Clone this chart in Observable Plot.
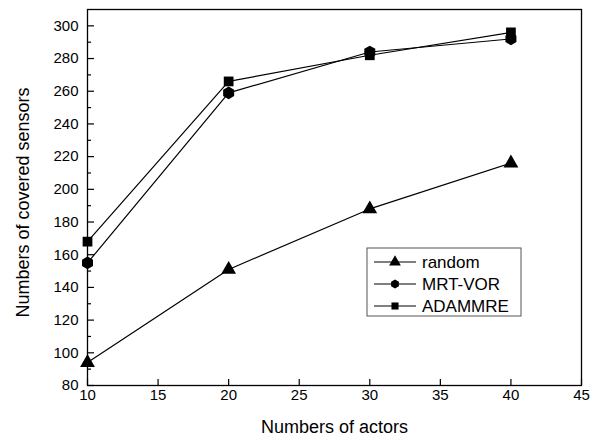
<!DOCTYPE html>
<html>
<head>
<meta charset="utf-8">
<script src="https://cdn.jsdelivr.net/npm/d3@7"></script>
<script src="https://cdn.jsdelivr.net/npm/@observablehq/plot@0.6"></script>
<style>
  html, body { margin: 0; padding: 0; background: #fff; }
  #chart { width: 599px; height: 443px; }
</style>
</head>
<body>
<div id="chart"></div>
<script>
const actors = [10, 20, 30, 40];
const randomVals = [94, 151, 188, 216];
const mrtVorVals = [155, 259, 284, 292];
const adammreVals = [168, 266, 282, 296];
const seriesNames = ["random", "MRT-VOR", "ADAMMRE"];
const seriesSymbols = ["triangle", "hexagon", "square"];
const xTicks = [10, 15, 20, 25, 30, 35, 40, 45];
const yTicks = [80, 100, 120, 140, 160, 180, 200, 220, 240, 260, 280, 300];
const yMinorTicks = [90, 110, 130, 150, 170, 190, 210, 230, 250, 270, 290];

const seriesVals = [randomVals, mrtVorVals, adammreVals];
const data = [];
seriesNames.forEach((name, i) => {
  actors.forEach((a, j) => data.push({series: name, x: a, y: seriesVals[i][j]}));
});

const font = "'Liberation Sans', Arial, sans-serif";

const plot = Plot.plot({
  width: 599,
  height: 443,
  marginLeft: 87,
  marginRight: 18,
  marginTop: 9,
  marginBottom: 58,
  style: {fontFamily: font, fontSize: "15px", color: "#000", background: "#fff"},
  x: {domain: [10, 45]},
  y: {domain: [80, 310]},
  symbol: {domain: seriesNames, range: seriesSymbols},
  marks: [
    Plot.frame({stroke: "#000", strokeWidth: 1.3}),
    Plot.axisX({ticks: xTicks, tickSize: -6, tickPadding: 10, fontSize: 15, label: null, strokeWidth: 1.2}),
    Plot.axisY({ticks: yTicks, tickSize: -7, tickPadding: 16, fontSize: 15, label: null, strokeWidth: 1.2}),
    Plot.axisY({ticks: yMinorTicks, tickSize: -4, text: null, label: null, strokeWidth: 1.2}),
    Plot.text(["Numbers of actors"], {frameAnchor: "bottom", dy: 47, fontSize: 18, fill: "#000"}),
    Plot.text(["Numbers of covered sensors"], {frameAnchor: "left", dx: -64, dy: 5, rotate: -90, textAnchor: "middle", lineAnchor: "middle", fontSize: 18, fill: "#000"}),
    Plot.line(data, {x: "x", y: "y", z: "series", stroke: "#000", strokeWidth: 1.2}),
    Plot.dot(data, {x: "x", y: "y", symbol: "series", fill: "#000", stroke: "none", r: 5.5})
  ]
});

// Legend inside the plot, drawn on the same SVG
const svg = d3.select(plot);
const lx = 367, ly = 248, lw = 154, lh = 68;
const g = svg.append("g").attr("font-family", font).attr("font-size", 17).attr("text-anchor", "start");
g.append("rect").attr("x", lx).attr("y", ly).attr("width", lw).attr("height", lh)
  .attr("fill", "#fff").attr("stroke", "#555").attr("stroke-width", 1);
const types = {triangle: d3.symbolTriangle, square: d3.symbolSquare};
seriesNames.forEach((name, i) => {
  const cy = ly + 14 + i * 22;
  g.append("line").attr("x1", lx + 7).attr("x2", lx + 49).attr("y1", cy).attr("y2", cy)
    .attr("stroke", "#000").attr("stroke-width", 1.2);
  let path;
  if (seriesSymbols[i] === "hexagon") {
    const r = 4.5;
    const pts = d3.range(6).map(k => {
      const a = Math.PI / 3 * k - Math.PI / 2;
      return [r * Math.cos(a), r * Math.sin(a)];
    });
    path = "M" + pts.map(p => p.join(",")).join("L") + "Z";
  } else {
    path = d3.symbol().type(types[seriesSymbols[i]]).size(seriesSymbols[i] === "square" ? 50 : 60)();
  }
  g.append("path").attr("d", path).attr("transform", `translate(${lx + 28},${cy})`).attr("fill", "#000");
  g.append("text").attr("x", lx + 55).attr("y", cy).attr("dy", "0.35em").attr("fill", "#000").text(name);
});

document.getElementById("chart").appendChild(plot);
</script>
</body>
</html>
